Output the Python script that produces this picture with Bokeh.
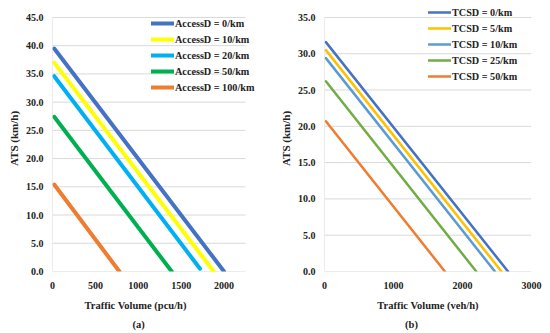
from bokeh.plotting import figure
from bokeh.models import (Range1d, Legend, LegendItem, BoxAnnotation, FixedTicker,
                          PrintfTickFormatter, ColumnDataSource, Spacer, Title)
from bokeh.layouts import row, column
from bokeh.embed import file_html
from bokeh.resources import INLINE
from bokeh.core.properties import value

# ---------------- data: panel (a) ----------------
a_labels = ["AccessD = 0/km", "AccessD = 10/km", "AccessD = 20/km",
            "AccessD = 50/km", "AccessD = 100/km"]
a_colors = ["#4472C4", "#FFFF00", "#00B0F0", "#00B050", "#ED7D31"]
a_x_start = [20, 20, 20, 20, 20]
a_y_start = [39.5, 37.0, 34.6, 27.4, 15.4]
a_x_end = [2000, 1880, 1720, 1390, 780]
a_y_end = [0.0, 0.0, 0.5, 0.0, 0.0]
a_xmax = 2250
a_ymax = 45
a_xticks = [0, 500, 1000, 1500, 2000]
a_yticks = [0, 5, 10, 15, 20, 25, 30, 35, 40, 45]
a_xtitle = "Traffic Volume (pcu/h)"

# ---------------- data: panel (b) ----------------
b_labels = ["TCSD = 0/km", "TCSD = 5/km", "TCSD = 10/km",
            "TCSD = 25/km", "TCSD = 50/km"]
b_colors = ["#4472C4", "#FFC000", "#5B9BD5", "#70AD47", "#ED7D31"]
b_x_start = [20, 20, 20, 20, 20]
b_y_start = [31.6, 30.5, 29.4, 26.2, 20.7]
b_x_end = [2660, 2565, 2470, 2200, 1745]
b_y_end = [0.0, 0.0, 0.0, 0.0, 0.0]
b_xmax = 3000
b_ymax = 35
b_xticks = [0, 1000, 2000, 3000]
b_yticks = [0, 5, 10, 15, 20, 25, 30, 35]
b_xtitle = "Traffic Volume (veh/h)"

ytitle = "ATS (km/h)"
cap_text = ["(a)", "(b)"]

FONT = "Liberation Serif"
GRID = "#D9D9D9"
TXT = "#222222"

FIG_H = 314      # figure height (px)
MB_TOP = 1
MB_BOTTOM = 46
BORDER_BELOW = 40  # border line distance below the frame (px)


def make_panel(width, mb_left, plot_w, extra_right, plot_h, xmax, ymax, xticks,
               yticks, xlabel, labels, colors, xs, ys, xe, ye, lw, leg_x, leg_top,
               title_align, title_offset):
    # plot_w / plot_h: pixel size of the value area (0..xmax, 0..ymax)
    frame_w = plot_w + extra_right
    frame_h = FIG_H - MB_TOP - MB_BOTTOM
    mb_right = width - mb_left - frame_w
    x_frame_max = xmax * frame_w / plot_w
    y_frame_max = ymax * frame_h / plot_h
    p = figure(width=width, height=FIG_H, x_range=Range1d(0, x_frame_max),
               y_range=Range1d(0, y_frame_max), output_backend="svg",
               toolbar_location=None, min_border_left=mb_left,
               min_border_right=mb_right, min_border_top=MB_TOP,
               min_border_bottom=MB_BOTTOM)
    p.outline_line_color = None
    p.grid.visible = False
    p.xaxis.ticker = FixedTicker(ticks=xticks)
    p.yaxis.ticker = FixedTicker(ticks=yticks)
    p.yaxis.formatter = PrintfTickFormatter(format="%.1f")
    for ax in (p.xaxis[0], p.yaxis[0]):
        ax.axis_line_color = None
        ax.major_tick_line_color = None
        ax.minor_tick_line_color = None
        ax.major_tick_out = 0
        ax.major_tick_in = 0
        ax.major_label_text_font = FONT
        ax.major_label_text_font_style = "bold"
        ax.major_label_text_font_size = "10px"
        ax.major_label_text_color = TXT
        ax.axis_label_text_font = FONT
        ax.axis_label_text_font_style = "bold"
        ax.axis_label_text_color = TXT
    p.yaxis.axis_label_text_font_size = "11px"
    p.yaxis.axis_label = ytitle
    p.xaxis.major_label_standoff = 10
    p.yaxis.major_label_standoff = 9
    p.yaxis.axis_label_standoff = 3

    xt = Title(text=xlabel, align=title_align, offset=title_offset,
               text_font=FONT, text_font_style="bold", text_font_size="10.5px",
               text_color=TXT, vertical_align="middle", standoff=14)
    p.add_layout(xt, "below")

    # gridlines and axis lines limited to the value area
    p.segment(x0=[0] * len(yticks), x1=[xmax] * len(yticks), y0=yticks, y1=yticks,
              line_color=GRID, line_width=1)
    p.segment(x0=[0], x1=[0], y0=[0], y1=[ymax], line_color=GRID, line_width=1)

    items = []
    for i in range(len(labels)):
        src = ColumnDataSource(dict(x=[xs[i], xe[i]], y=[ys[i], ye[i]]))
        r = p.line("x", "y", source=src, line_color=colors[i], line_width=lw,
                   line_cap="round")
        items.append(LegendItem(label=labels[i], renderers=[r]))

    n = len(labels)
    row_h = 16
    legend = Legend(items=items, location=(leg_x, frame_h - leg_top - n * row_h),
                    glyph_width=23, glyph_height=row_h, label_height=row_h,
                    label_standoff=1, spacing=0, padding=0, margin=0,
                    border_line_color=None, background_fill_alpha=0,
                    label_text_font=FONT, label_text_font_style="bold",
                    label_text_font_size="10.2px", label_text_color=TXT)
    p.add_layout(legend)

    border = BoxAnnotation(left=-mb_left + 0.5, right=frame_w + mb_right - 0.5,
                           bottom=-BORDER_BELOW + 0.5, top=frame_h + MB_TOP - 0.5,
                           left_units="screen", right_units="screen",
                           top_units="screen", bottom_units="screen",
                           fill_alpha=0, line_color=GRID, line_width=1,
                           level="overlay")
    p.add_layout(border)
    return p


pa = make_panel(268, 49, 193, 14, 255, a_xmax, a_ymax, a_xticks,
                a_yticks, a_xtitle, a_labels, a_colors,
                a_x_start, a_y_start, a_x_end, a_y_end, 4, 99, 11, "left", 32)
pb = make_panel(272, 46, 209, 0, 255, b_xmax, b_ymax, b_xticks,
                b_yticks, b_xtitle, b_labels, b_colors,
                b_x_start, b_y_start, b_x_end, b_y_end, 2.5, 104, 0, "center", 0)

# panel captions
cap_h = 333 - 4 - FIG_H
cap_x = [138, 411]
lab = figure(width=550, height=cap_h, x_range=Range1d(0, 550),
             y_range=Range1d(0, cap_h), output_backend="svg",
             toolbar_location=None, min_border=0)
lab.axis.visible = False
lab.grid.visible = False
lab.outline_line_color = None
lab.text(x=cap_x, y=[cap_h - 6] * 2, text=cap_text, text_align="center",
         text_baseline="middle", text_font=value(FONT), text_font_style="bold",
         text_font_size="10.5px", text_color=TXT)

layout = column(Spacer(width=550, height=4),
                row(Spacer(width=3, height=FIG_H), pa, Spacer(width=5, height=FIG_H),
                    pb, spacing=0),
                lab, spacing=0)
open("out.html", "w").write(file_html(layout, INLINE))
